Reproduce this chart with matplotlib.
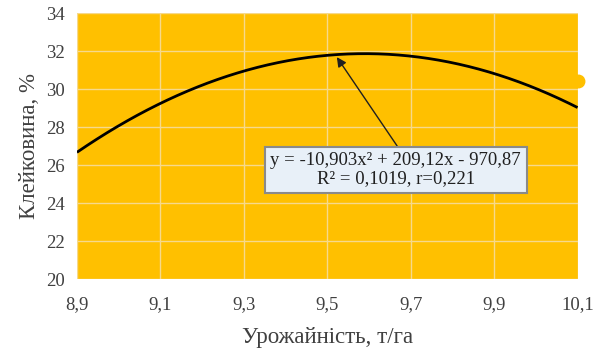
import numpy as np
import matplotlib
matplotlib.use('Agg')
import matplotlib.pyplot as plt

plt.rcParams['font.family'] = ['Liberation Serif', 'DejaVu Serif']

# quadratic trend: y = a*x^2 + b*x + c
trend_coef = [-10.903, 209.12, -970.87]
x_min, x_max = 8.9, 10.1
x_ticks = [8.9, 9.1, 9.3, 9.5, 9.7, 9.9, 10.1]
y_ticks = [20, 22, 24, 26, 28, 30, 32, 34]
edge_point = (10.1, 30.4)
eq_text = 'y = -10,903x² + 209,12x - 970,87\nR² = 0,1019, r=0,221'
arrow_tip = (9.523, 31.68)

gold = '#FFC000'
grid_col = '#F6D98C'

fig = plt.figure(figsize=(6.01, 3.52), dpi=100)
ax = fig.add_axes([0.128, 0.207, 0.833, 0.756])
ax.set_facecolor(gold)

xx = np.linspace(x_min, x_max, 300)
yy = np.polyval(trend_coef, xx)
ax.plot(xx, yy, color='black', lw=2.0, solid_capstyle='butt', zorder=3)

ax.plot([edge_point[0]], [edge_point[1]], 'o', ms=9, color=gold, mec=gold,
        clip_on=False, zorder=1)

ax.set_xlim(x_min, x_max)
ax.set_ylim(y_ticks[0], y_ticks[-1])
ax.set_xticks(x_ticks)
ax.set_yticks(y_ticks)
ax.set_xticklabels([('%g' % v).replace('.', ',') for v in x_ticks])
ax.set_yticklabels([str(v) for v in y_ticks])
ax.tick_params(axis='x', pad=12)
ax.tick_params(axis='y', pad=9)
ax.tick_params(length=0, labelsize=13.5, colors='#404040')
ax.grid(True, color=grid_col, lw=1.0)
ax.set_axisbelow(True)
for s in ax.spines.values():
    s.set_visible(False)

ax.set_xlabel('Урожайність, т/га', fontsize=16.5, color='#404040', labelpad=10)
ax.set_ylabel('Клейковина, %', fontsize=16.5, color='#404040', labelpad=4)

ax.annotate(eq_text, xy=arrow_tip, xytext=(9.664, 25.76),
            ha='center', va='center', fontsize=13.5, color='#202020',
            linespacing=1.05,
            bbox=dict(boxstyle='square,pad=0.3', fc='#E8F0F8', ec='#8A8A8A', lw=1.5),
            arrowprops=dict(arrowstyle='-|>', color='#202020', lw=1.0,
                            mutation_scale=14, shrinkA=0, shrinkB=0,
                            relpos=(0.57, 0.5)),
            zorder=5)

fig.savefig('out.png', dpi=100)
